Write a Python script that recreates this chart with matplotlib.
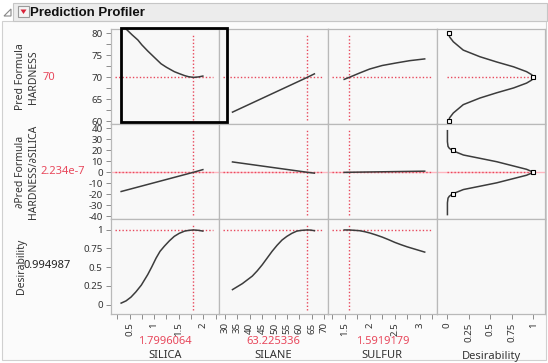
import matplotlib.pyplot as plt
from matplotlib.patches import Rectangle, Polygon

W, H = 548, 363

# --- data ---
factor_names = ['SILICA', 'SILANE', 'SULFUR']
factor_values = [1.7996064, 63.225336, 1.5919179]
factor_labels = ['1.7996064', '63.225336', '1.5919179']
response_labels = ['Pred Formula\nHARDNESS', '\u2202Pred Formula\nHARDNESS/\u2202SILICA', 'Desirability']
response_values = [70.0, 2.234e-7, 0.994987]
response_value_labels = ['70', '2.234e-7', '0.994987']

silica_a = [0.33, 0.43, 0.55, 0.67, 0.75, 0.87, 1.0, 1.14, 1.25, 1.41, 1.5, 1.62, 1.7, 1.80, 1.9, 1.99]
hardness_vs_silica = [82.7, 81.0, 79.7, 78.5, 77.4, 76.0, 74.6, 73.1, 72.3, 71.3, 70.9, 70.4, 70.15, 70.0, 70.1, 70.3]
silica_b = [0.33, 1.80, 1.99]
deriv_vs_silica = [-17.5, 0.0, 2.4]
silica_c = [0.33, 0.43, 0.53, 0.63, 0.74, 0.87, 0.95, 1.04, 1.12, 1.21, 1.31, 1.41, 1.51, 1.62, 1.71, 1.80, 1.9, 1.99]
desir_vs_silica = [0.02, 0.05, 0.10, 0.17, 0.26, 0.40, 0.50, 0.62, 0.71, 0.78, 0.85, 0.91, 0.95, 0.98, 0.99, 0.995, 0.99, 0.98]

silane_a = [33.0, 63.2, 66.1]
hardness_vs_silane = [62.1, 70.0, 70.8]
deriv_vs_silane = [9.4, 0.0, -0.8]
silane_c = [33.0, 35.0, 37.0, 39.0, 41.0, 43.0, 45.0, 47.0, 49.0, 51.0, 53.0, 55.0, 57.0, 59.0, 61.0, 63.2, 64.7, 66.1]
desir_vs_silane = [0.20, 0.24, 0.28, 0.33, 0.38, 0.45, 0.53, 0.62, 0.71, 0.79, 0.86, 0.91, 0.95, 0.98, 0.99, 0.995, 0.993, 0.985]

sulfur_a = [1.49, 1.59, 1.8, 2.0, 2.25, 2.54, 2.8, 3.1]
hardness_vs_sulfur = [69.55, 70.0, 71.0, 71.9, 72.7, 73.3, 73.8, 74.2]
sulfur_b = [1.49, 1.59, 3.1]
deriv_vs_sulfur = [-0.1, 0.0, 1.0]
sulfur_c = [1.49, 1.59, 1.7, 1.8, 1.9, 2.0, 2.12, 2.25, 2.38, 2.5, 2.62, 2.75, 2.9, 3.1]
desir_vs_sulfur = [0.995, 0.995, 0.99, 0.985, 0.972, 0.955, 0.93, 0.90, 0.865, 0.83, 0.80, 0.77, 0.74, 0.70]

# desirability functions (x = desirability, y = response)
dfun_hard_d = [0.0183, 0.03, 0.073, 0.188, 0.38, 0.575, 0.77, 0.92, 0.98, 1.0,
               0.98, 0.92, 0.77, 0.575, 0.38, 0.188, 0.073, 0.03, 0.0183]
dfun_hard_y = [80, 79.2, 78.1, 76.2, 74.7, 73.5, 72.4, 71.3, 70.6, 70,
               69.4, 68.7, 67.6, 66.5, 65.3, 63.8, 61.9, 60.8, 60]
dfun_hard_pts_d = [0.0183, 1.0, 0.0183]
dfun_hard_pts_y = [80, 70, 60]
dfun_der_d = [0.005, 0.005, 0.012, 0.027, 0.066, 0.19, 0.38, 0.575, 0.77, 0.92, 1.0,
              0.92, 0.77, 0.575, 0.38, 0.19, 0.066, 0.027, 0.012, 0.005, 0.005]
dfun_der_y = [37.8, 27.8, 23.5, 21.8, 19.6, 15.7, 12.7, 9.6, 5.7, 2.7, 0,
              -2.7, -5.7, -9.6, -12.7, -15.7, -19.6, -21.8, -23.5, -27.8, -38.5]
dfun_der_pts_d = [0.066, 1.0, 0.066]
dfun_der_pts_y = [20, 0, -20]

col_x = [[silica_a, silica_b, silica_c], [silane_a, silane_a, silane_c], [sulfur_a, sulfur_b, sulfur_c]]
col_y = [[hardness_vs_silica, deriv_vs_silica, desir_vs_silica],
         [hardness_vs_silane, deriv_vs_silane, desir_vs_silane],
         [hardness_vs_sulfur, deriv_vs_sulfur, desir_vs_sulfur]]

# --- layout (pixels) ---
col_edges = [111, 219, 328, 436.7, 545]
row_edges = [29, 124, 219, 314]
xlims = [(0.124, 2.318), (27.55, 71.6), (1.166, 3.34), (-0.119, 1.133)]
ylims = [(59.4, 81.0), (-42.5, 43.9), (-0.125, 1.141)]
xmajor = [[0.5, 1, 1.5, 2], list(range(30, 71, 5)), [1.5, 2, 2.5, 3], [0, 0.25, 0.5, 0.75, 1]]
xmajor_lbl = [['0.5', '1', '1.5', '2'], [str(v) for v in range(30, 71, 5)],
              ['1.5', '2', '2.5', '3'], ['0', '0.25', '0.5', '0.75', '1']]
xminor = [[0.25, 0.75, 1.25, 1.75, 2.25], [], [1.25, 1.75, 2.25, 2.75, 3.25], []]
ymajor = [[60, 65, 70, 75, 80], list(range(-40, 41, 10)), [0, 0.25, 0.5, 0.75, 1]]
ymajor_lbl = [['60', '65', '70', '75', '80'], [str(v) for v in range(-40, 41, 10)],
              ['0', '0.25', '0.5', '0.75', '1']]
yminor = [[62.5, 67.5, 72.5, 77.5], [], []]

RED = '#e8485c'
LINE = '#3c3c3c'
FRAME = '#b9b9b9'
TXT = '#333333'

plt.rcParams['font.family'] = ['Noto Sans', 'DejaVu Sans']

fig = plt.figure(figsize=(W / 100, H / 100), dpi=100)
fig.patch.set_facecolor('white')


def fx(x):
    return x / W


def fy(y):
    return 1 - y / H


# outline box and header (behind the axes)
fig.add_artist(Rectangle((fx(2), fy(360)), fx(546) - fx(2), fy(21) - fy(360),
                         transform=fig.transFigure, facecolor='#fbfbfb', edgecolor='#d0d0d0',
                         lw=0.8, zorder=-5))
fig.add_artist(Rectangle((fx(13), fy(21)), fx(547) - fx(13), fy(3) - fy(21),
                         transform=fig.transFigure, facecolor='#ececec', edgecolor='#c6c6c6',
                         lw=0.8, zorder=-5))
fig.add_artist(Polygon([(fx(4), fy(16)), (fx(11), fy(16)), (fx(11), fy(9))], closed=True,
                       transform=fig.transFigure, facecolor='none', edgecolor='#888888', lw=0.8))
fig.add_artist(Rectangle((fx(18), fy(17)), fx(11), fy(6) - fy(17),
                         transform=fig.transFigure, facecolor='#f4f4f4', edgecolor='#9a9a9a', lw=0.8))
fig.add_artist(Polygon([(fx(20.5), fy(9.5)), (fx(26.5), fy(9.5)), (fx(23.5), fy(14))], closed=True,
                       transform=fig.transFigure, facecolor='#d9243a', edgecolor='none'))
fig.text(fx(30), fy(12.5), 'Prediction Profiler', fontsize=9.5, fontweight='bold',
         family=['Liberation Sans', 'DejaVu Sans'], va='center', ha='left', color='#111111')

for r in range(3):
    for c in range(4):
        x0, x1 = col_edges[c], col_edges[c + 1]
        y0, y1 = row_edges[r], row_edges[r + 1]
        ax = fig.add_axes([fx(x0), fy(y1), fx(x1) - fx(x0), fy(y0) - fy(y1)])
        ax.set_facecolor('#f8f8f8')
        for s in ax.spines.values():
            s.set_color(FRAME)
            s.set_linewidth(0.9)
        ax.set_xlim(xlims[c])
        ax.set_ylim(ylims[r])
        ax.tick_params(which='both', direction='out', color='#8c8c8c', labelcolor=TXT,
                       labelsize=7, length=3.5, width=0.7, pad=2.5)
        if c == 0:
            ax.set_yticks(ymajor[r])
            ax.set_yticklabels(ymajor_lbl[r])
            ax.set_yticks(yminor[r], minor=True)
        else:
            ax.set_yticks([])
        if r == 2:
            ax.set_xticks(xmajor[c])
            ax.set_xticklabels(xmajor_lbl[c], rotation=90)
            ax.set_xticks(xminor[c], minor=True)
        else:
            ax.set_xticks([])

        w = x1 - x0
        h = y1 - y0
        hx0, hx1 = 4 / w, 1 - 6 / w
        vy0, vy1 = 4 / h, 1 - 6 / h
        if r == 1:
            ax.axhline(0, color='#ffb6c0', lw=1.0, zorder=1)
        if c < 3:
            ax.plot(col_x[c][r], col_y[c][r], color=LINE, lw=1.1, zorder=3)
            ax.axvline(factor_values[c], ymin=vy0, ymax=vy1, color=RED, lw=1.0,
                       ls=(0, (1, 1.5)), zorder=2)
            ax.axhline(response_values[r], xmin=hx0, xmax=hx1, color=RED, lw=1.0,
                       ls=(0, (1, 1.5)), zorder=2)
        elif r == 0:
            ax.axhline(response_values[r], xmin=10 / w, xmax=(533 - x0) / w, color=RED, lw=1.0,
                       ls=(0, (1, 1.5)), zorder=2)
            ax.plot(dfun_hard_d, dfun_hard_y, color=LINE, lw=1.1, zorder=3)
            ax.plot(dfun_hard_pts_d, dfun_hard_pts_y, ls='none', marker='s', ms=3.5,
                    mfc='white', mec='black', mew=0.8, zorder=4, clip_on=False)
        elif r == 1:
            ax.axhline(response_values[r], xmin=10 / w, xmax=(533 - x0) / w, color=RED, lw=1.0,
                       ls=(0, (1, 1.5)), zorder=2)
            ax.plot(dfun_der_d, dfun_der_y, color=LINE, lw=1.1, zorder=3)
            ax.plot(dfun_der_pts_d, dfun_der_pts_y, ls='none', marker='s', ms=3.5,
                    mfc='white', mec='black', mew=0.8, zorder=4)

# selection box around first cell
fig.add_artist(Rectangle((fx(120.5), fy(122.3)), fx(227.3) - fx(120.5), fy(28.5) - fy(122.3),
                         transform=fig.transFigure, facecolor='none', edgecolor='black', lw=2.0, zorder=10))

# row labels
row_mid = [77, 172, 266]
row_lbl_x = [27, 27, 21]
row_val_x = [49, 63, 47]
for r in range(3):
    fig.text(fx(row_lbl_x[r]), fy(row_mid[r]), response_labels[r], rotation=90, ha='center', va='center',
             fontsize=7.5, color=TXT, linespacing=1.3)
    fig.text(fx(row_val_x[r]), fy(row_mid[r]), response_value_labels[r], ha='center', va='center',
             fontsize=8, color=RED if r < 2 else '#222222')

# column labels
for c in range(3):
    xm = (col_edges[c] + col_edges[c + 1]) / 2
    fig.text(fx(xm), fy(341), factor_labels[c], ha='center', va='center', fontsize=8, color=RED)
    fig.text(fx(xm), fy(355.5), factor_names[c], ha='center', va='center', fontsize=8, color=TXT)
fig.text(fx(491), fy(356), 'Desirability', ha='center', va='center', fontsize=8, color=TXT)

fig.savefig('out.png', dpi=100)
